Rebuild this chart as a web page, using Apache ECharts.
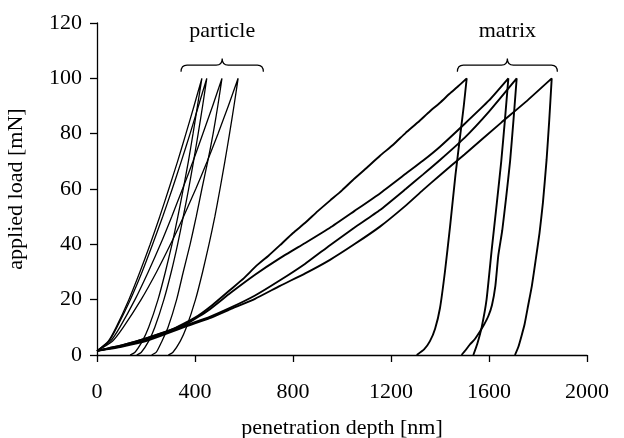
<!DOCTYPE html>
<html>
<head>
<meta charset="utf-8">
<script src="https://cdn.jsdelivr.net/npm/echarts@6/dist/echarts.min.js"></script>
<style>
html,body{margin:0;padding:0;background:#fff;}
#chart{width:624px;height:438px;}
</style>
</head>
<body>
<div id="chart"></div>
<script>
// ---- data ----
const xTicks = [0, 400, 800, 1200, 1600, 2000];
const yTicks = [0, 20, 40, 60, 80, 100, 120];

// particle indents: loading then unloading, [depth nm, load mN]
const particle1 = [[0,1.5],[46,5],[78,10],[130,20],[175,30],[217,40],[256,50],[293,60],[329,70],[363,80],[396,90],[428,100],
  [410,90],[392,80],[373,70],[352,60],[330,50],[306,40],[279,30],[249,20],[211,10],[185,5],[155,1],[135,0]];
const particle2 = [[0,1.5],[49,5],[81,10],[136,20],[184,30],[227,40],[268,50],[307,60],[344,70],[380,80],[414,90],[448,100],
  [431,90],[413,80],[394,70],[374,60],[352,50],[329,40],[303,30],[273,20],[236,10],[211,5],[181,1],[162,0]];
const particle3 = [[0,1.5],[55,5],[93,10],[155,20],[209,30],[259,40],[305,50],[349,60],[392,70],[432,80],[472,90],[510,100],
  [493,90],[474,80],[452,70],[428,60],[405,50],[380,40],[352,30],[325,20],[290,10],[265,5],[242,1],[223,0]];
const particle4 = [[0,1.5],[63,5],[107,10],[180,20],[243,30],[300,40],[353,50],[403,60],[450,70],[494,80],[536,90],[576,100],
  [559,90],[541,80],[522,70],[502,60],[481,50],[457,40],[431,30],[402,20],[365,10],[340,5],[310,1],[291,0]];

// matrix indents
const matrix1 = [[0,1.5],[50,2.5],[100,3.5],[200,6],[300,9],[400,13.5],[470,18],[543,23.5],[600,27.8],[650,32.2],[700,35.9],[747,39.7],[800,44.1],[850,47.8],[900,51.9],[951,55.8],[1000,59.5],[1050,63.7],[1100,67.6],[1155,72],[1210,76.1],[1260,80.3],[1310,84.1],[1359,88.1],[1400,91.2],[1440,94.5],[1475,97.2],[1509,100],
  [1497,90],[1482,79],[1463,65],[1441,46.4],[1420,30],[1400,17],[1380,9.5],[1359,5],[1335,2],[1305,0]];
const matrix2 = [[0,1.5],[100,3.5],[200,6],[370,11.5],[460,16.5],[543,22.3],[645,29],[747,35],[850,40.5],[951,46],[1050,52],[1155,58.4],[1260,65.5],[1330,70.2],[1400,75.3],[1500,83.5],[1600,92],[1679,100],
  [1665,85],[1650,70],[1632,55],[1611,38],[1590,20],[1570,10],[1552,4],[1536,0]];
const matrix3 = [[0,1.5],[100,3.2],[200,5.5],[370,11],[460,13.8],[543,17],[645,21.5],[747,27],[850,33],[951,39.7],[1050,46],[1155,52.4],[1260,60],[1330,65.2],[1400,70.5],[1500,78.5],[1600,88],[1713,100],
  [1700,85],[1686,70],[1670,57],[1654,45],[1638,36],[1626,25],[1612,18],[1597,14],[1580,11],[1563,8.5],[1540,5.5],[1522,3.8],[1505,1.8],[1488,0]];
const matrix4 = [[0,1.5],[100,3],[200,5],[370,10.5],[460,13.3],[543,16.5],[645,20.3],[747,25],[850,29.5],[951,34.4],[1050,40],[1155,46.4],[1260,54],[1330,59.6],[1400,65],[1500,72.5],[1650,84],[1750,91.5],[1856,100],
  [1846,85],[1835,70.5],[1820,55],[1806,44],[1790,34],[1775,25],[1760,18],[1745,11],[1733,7],[1720,3],[1706,0]];

// brace annotations: [from depth, to depth]
const groupSpans = [[343, 679], [1471, 1879]];
const groupLabels = ['particle', 'matrix'];
const braceLevels = [102.4, 104.8, 107.2]; // hook end, flat, tip (mN)
const labelLevel = 117;

// ---- chart ----
const FONT = '"Liberation Serif", "Times New Roman", serif';
const chart = echarts.init(document.getElementById('chart'), null, {renderer: 'canvas'});

const particleSeries = [particle1, particle2, particle3, particle4].map(d => ({
  type: 'line', data: d, showSymbol: false, smooth: 0.2, silent: true,
  lineStyle: {color: '#000', width: 1.3}
}));
const matrixSeries = [matrix1, matrix2, matrix3, matrix4].map(d => ({
  type: 'line', data: d, showSymbol: false, smooth: 0.15, silent: true,
  lineStyle: {color: '#000', width: 1.9}
}));

const braceSeries = {
  type: 'custom',
  coordinateSystem: 'cartesian2d',
  clip: false,
  silent: true,
  data: groupSpans.map(s => [s[0], s[1]]),
  renderItem: function (params, api) {
    const x0 = api.value(0), x1 = api.value(1), xm = (x0 + x1) / 2;
    const pa = api.coord([x0, braceLevels[0]]);
    const pb = api.coord([x1, braceLevels[0]]);
    const yf = api.coord([x0, braceLevels[1]])[1];
    const pt = api.coord([xm, braceLevels[2]]);
    const r = 6;
    const d = 'M' + pa[0] + ',' + pa[1] +
      ' Q' + pa[0] + ',' + yf + ' ' + (pa[0] + r) + ',' + yf +
      ' L' + (pt[0] - r) + ',' + yf +
      ' Q' + pt[0] + ',' + yf + ' ' + pt[0] + ',' + pt[1] +
      ' Q' + pt[0] + ',' + yf + ' ' + (pt[0] + r) + ',' + yf +
      ' L' + (pb[0] - r) + ',' + yf +
      ' Q' + pb[0] + ',' + yf + ' ' + pb[0] + ',' + pb[1];
    const tp = api.coord([xm, labelLevel]);
    return {
      type: 'group',
      children: [
        {type: 'path', shape: {pathData: d}, style: {fill: null, stroke: '#000', lineWidth: 1.2}},
        {type: 'text', x: tp[0], y: tp[1], style: {
          text: groupLabels[params.dataIndex], fill: '#000',
          font: '22px ' + FONT, align: 'center', verticalAlign: 'middle'}}
      ]
    };
  }
};

chart.setOption({
  animation: false,
  backgroundColor: '#fff',
  grid: {left: 97, right: 37, top: 23, bottom: 83, containLabel: false, outerBoundsMode: 'none'},
  xAxis: {
    type: 'value', min: xTicks[0], max: xTicks[xTicks.length - 1], interval: xTicks[1] - xTicks[0],
    name: 'penetration depth [nm]', nameLocation: 'middle', nameGap: 62,
    nameTextStyle: {fontFamily: FONT, fontSize: 22, color: '#000'},
    axisLine: {show: true, onZero: false, lineStyle: {color: '#000', width: 1.3}},
    axisTick: {show: true, inside: false, length: 7, lineStyle: {color: '#000', width: 1.3}},
    axisLabel: {fontFamily: FONT, fontSize: 22, color: '#000', margin: 26, formatter: v => String(v)},
    splitLine: {show: false}
  },
  yAxis: {
    type: 'value', min: yTicks[0], max: yTicks[yTicks.length - 1], interval: yTicks[1] - yTicks[0],
    name: 'applied load [mN]', nameLocation: 'middle', nameGap: 70, nameRotate: 90,
    nameTextStyle: {fontFamily: FONT, fontSize: 22, color: '#000'},
    axisLine: {show: true, onZero: false, lineStyle: {color: '#000', width: 1.3}},
    axisTick: {show: true, inside: false, length: 7, lineStyle: {color: '#000', width: 1.3}},
    axisLabel: {fontFamily: FONT, fontSize: 22, color: '#000', margin: 15, formatter: v => String(v)},
    splitLine: {show: false}
  },
  series: [...particleSeries, ...matrixSeries, braceSeries]
});
</script>
</body>
</html>
